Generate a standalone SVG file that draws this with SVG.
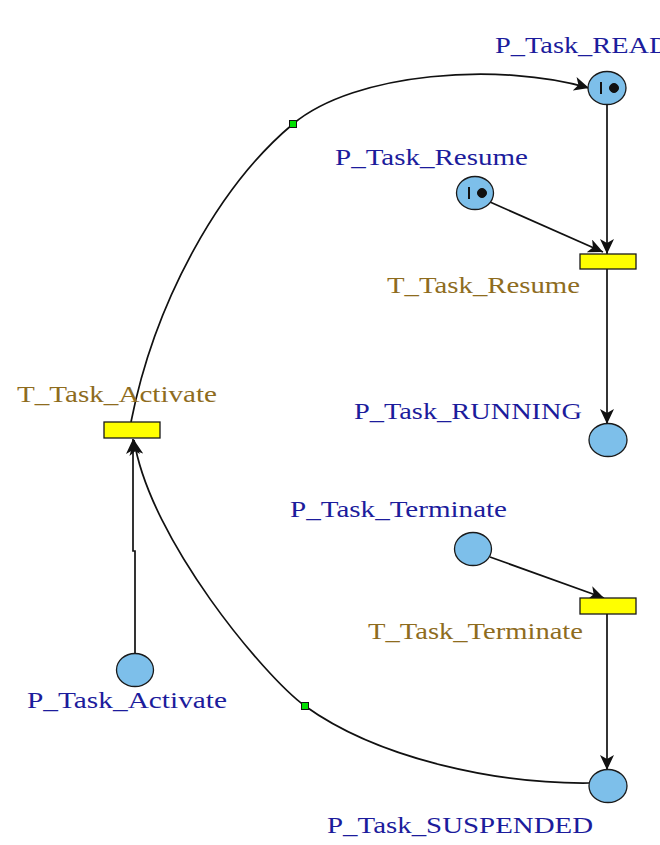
<svg xmlns="http://www.w3.org/2000/svg" width="660" height="845" viewBox="0 0 660 845">
<defs>
<style>
.place{fill:#7dbfea;stroke:#1a1a1a;stroke-width:1.3}
.trans{fill:#ffff00;stroke:#1a1a1a;stroke-width:1.3}
.pl{font-family:"Liberation Serif","DejaVu Serif",serif;font-size:24px;fill:#1c1c9c}
.tl{font-family:"Liberation Serif","DejaVu Serif",serif;font-size:24px;fill:#8e6c1e}
.arc{fill:none;stroke:#111;stroke-width:1.7;marker-end:url(#ah)}
.handle{fill:#00e000;stroke:#111;stroke-width:1}
.tok{fill:#111;stroke:#111}
</style>
<marker id="ah" markerUnits="userSpaceOnUse" markerWidth="16" markerHeight="14" refX="15" refY="7" orient="auto">
<path d="M0,0 L15,7 L0,14 L4,7 z" fill="#111"/>
</marker>
</defs>
<g id="connectors">
<path class="arc" d="M131,422 C155,300 220,185 293,124 C355,72 500,62 589,88"/>
<path class="arc" d="M589,783 C500,784 380,760 305,706 C265,677 150,540 134,440"/>
<path class="arc" d="M135,653 L135,551 L133,551 L133,439"/>
<path class="arc" d="M607,104 L607,254"/>
<path class="arc" d="M490,202 L603,252"/>
<path class="arc" d="M607,269 L607,424"/>
<path class="arc" d="M490,557 L604,598"/>
<path class="arc" d="M607,614 L607,770"/>
<rect class="handle" x="289.5" y="120.5" width="7" height="7"/>
<rect class="handle" x="301.5" y="702.5" width="7" height="7"/>
</g>
<g id="P_Task_READY">
<ellipse class="place" cx="607" cy="88" rx="19" ry="16.5"/>
<line class="tok" x1="601" y1="82" x2="601" y2="94" stroke-width="2"/>
<circle class="tok" cx="614" cy="88" r="4.5"/>
<text class="pl" x="495" y="53" textLength="195" lengthAdjust="spacingAndGlyphs">P_Task_READY</text>
</g>
<g id="P_Task_Resume">
<ellipse class="place" cx="475" cy="193" rx="18.5" ry="16.5"/>
<line class="tok" x1="469" y1="187" x2="469" y2="199" stroke-width="2"/>
<circle class="tok" cx="482" cy="193" r="4.5"/>
<text class="pl" x="335" y="165" textLength="193" lengthAdjust="spacingAndGlyphs">P_Task_Resume</text>
</g>
<g id="T_Task_Resume">
<rect class="trans" x="580" y="254" width="56" height="15"/>
<text class="tl" x="387" y="293" textLength="193" lengthAdjust="spacingAndGlyphs">T_Task_Resume</text>
</g>
<g id="P_Task_RUNNING">
<ellipse class="place" cx="608" cy="440" rx="19" ry="16.5"/>
<text class="pl" x="354" y="419" textLength="228" lengthAdjust="spacingAndGlyphs">P_Task_RUNNING</text>
</g>
<g id="P_Task_Terminate">
<ellipse class="place" cx="473" cy="549" rx="18.5" ry="16.5"/>
<text class="pl" x="290" y="517" textLength="217" lengthAdjust="spacingAndGlyphs">P_Task_Terminate</text>
</g>
<g id="T_Task_Terminate">
<rect class="trans" x="580" y="598" width="56" height="16"/>
<text class="tl" x="368" y="639" textLength="215" lengthAdjust="spacingAndGlyphs">T_Task_Terminate</text>
</g>
<g id="P_Task_SUSPENDED">
<ellipse class="place" cx="608" cy="786" rx="19" ry="16.5"/>
<text class="pl" x="327" y="833" textLength="266" lengthAdjust="spacingAndGlyphs">P_Task_SUSPENDED</text>
</g>
<g id="T_Task_Activate">
<rect class="trans" x="104" y="422" width="56" height="16"/>
<text class="tl" x="17" y="402" textLength="200" lengthAdjust="spacingAndGlyphs">T_Task_Activate</text>
</g>
<g id="P_Task_Activate">
<ellipse class="place" cx="135" cy="670" rx="18.5" ry="16.5"/>
<text class="pl" x="27" y="708" textLength="200" lengthAdjust="spacingAndGlyphs">P_Task_Activate</text>
</g>
</svg>
